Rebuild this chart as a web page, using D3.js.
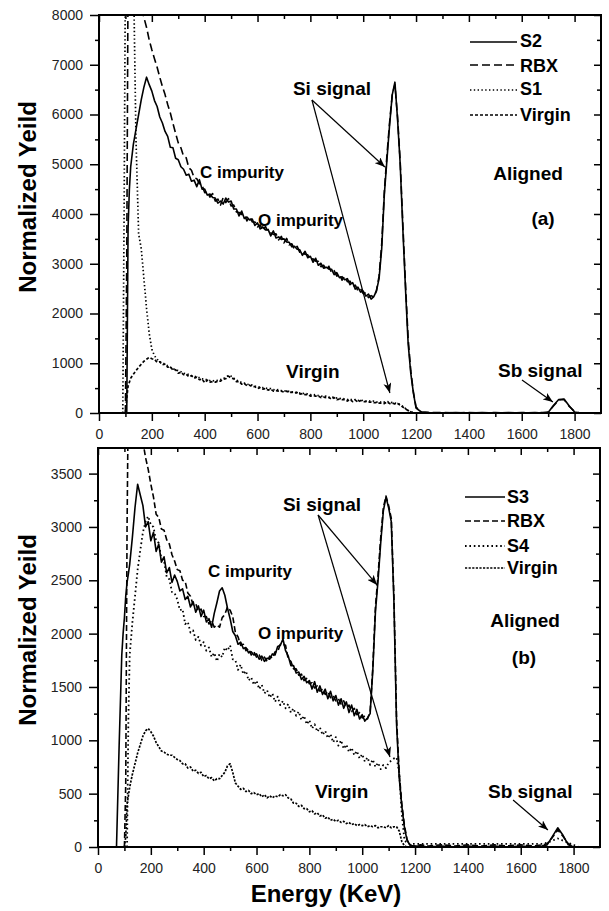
<!DOCTYPE html>
<html>
<head>
<meta charset="utf-8">
<script src="https://cdn.jsdelivr.net/npm/d3@7"></script>
<style>
  html, body { margin: 0; padding: 0; background: #fff; }
  svg { display: block; }
  text { font-family: "Liberation Sans", Arial, sans-serif; }
</style>
</head>
<body>
<svg id="chart" width="609" height="911"></svg>
<script>
// ---- Energy channels (KeV), shared by every spectrum ----
const energy = [
  70, 80, 90, 95, 100, 105, 110, 115, 120,
  130, 140, 150, 160, 170, 180, 190, 200, 210, 220, 230, 240, 250, 260, 270, 280, 290,
  300, 310, 320, 330, 340, 350, 360, 370, 380, 390,
  400, 410, 420, 430, 440, 450, 460, 470, 480, 490,
  500, 510, 520, 530, 540, 550, 560, 570, 580, 590,
  600, 610, 620, 630, 640, 650, 660, 670, 680, 690,
  700, 710, 720, 730, 740, 750, 760, 770, 780, 790,
  800, 810, 820, 830, 840, 850, 860, 870, 880, 890,
  900, 910, 920, 930, 940, 950, 960, 970, 980, 990,
  1000, 1010, 1020, 1030, 1040, 1050, 1060, 1070, 1080, 1090,
  1100, 1110, 1120, 1130, 1140, 1150, 1160, 1170, 1180, 1190,
  1200,
  1220, 1250, 1300, 1350, 1400, 1450, 1500, 1550, 1600, 1650, 1680, 1700, 1720, 1740, 1760, 1780, 1800, 1820
];

// ---- Panel (a) spectra: normalized yield ----
const s2 = [
  null, null, null, null, null, 0, 3700, 4500, 4950,
  5400, 5700, 6000, 6300, 6550, 6750, 6600, 6470, 6280, 6160, 5950, 5830, 5660, 5560, 5340, 5330, 5120,
  5090, 4950, 4900, 4780, 4800, 4660, 4680, 4550, 4690, 4500,
  4500, 4380, 4400, 4330, 4320, 4220, 4260, 4200, 4320, 4240,
  4260, 4100, 4100, 3960, 4060, 3910, 3940, 3880, 3900, 3770,
  3820, 3700, 3740, 3680, 3690, 3560, 3660, 3520, 3540, 3490,
  3500, 3440, 3430, 3340, 3350, 3290, 3280, 3170, 3250, 3120,
  3150, 3030, 3110, 2970, 3010, 2910, 2930, 2890, 2890, 2780,
  2820, 2720, 2740, 2680, 2700, 2580, 2620, 2490, 2530, 2430,
  2450, 2350, 2390, 2290, 2340, 2450, 2700, 3300, 4400, 5100,
  5800, 6400, 6650, 5900, 5000, 3700, 2500, 1400, 800, 400,
  100,
  20, 10, 0, 10, 0, 10, 0, 10, 0, 10, 0, 10, 150, 270, 280, 140, 20, 0
];
const rbxA = [
  null, null, null, null, 0, 3000, 8800, 9400, 9600,
  9500, 9200, 8700, 8200, 7950, 7750, 7500, 7300, 7120, 6950, 6750, 6560, 6400, 6200, 6030, 5820, 5620,
  5430, 5330, 5160, 5130, 4930, 4880, 4730, 4710, 4610, 4580,
  4430, 4440, 4340, 4410, 4260, 4300, 4180, 4330, 4230, 4310,
  4160, 4180, 4040, 4030, 3990, 3990, 3860, 3950, 3840, 3840,
  3740, 3780, 3660, 3750, 3630, 3620, 3590, 3600, 3480, 3550,
  3420, 3510, 3380, 3400, 3290, 3350, 3230, 3240, 3190, 3180,
  3080, 3100, 3050, 3050, 2940, 2970, 2880, 2950, 2820, 2860,
  2750, 2790, 2670, 2750, 2640, 2650, 2550, 2570, 2460, 2500,
  2400, 2420, 2320, 2360, 2330, 2460, 2750, 3400, 4450, 5200,
  5850, 6400, 6600, 5950, 5050, 3800, 2600, 1500, 850, 420,
  120,
  20, 10, 10, 0, 10, 0, 10, 0, 10, 0, 10, 20, 140, 260, 270, 130, 30, 0
];
const s1 = [
  null, null, 0, 4000, 9000, 9500, 9600, 9500, 9400,
  9000, 5500, 3600, 3300, 2700, 2100, 1600, 1280, 1150, 1080, 1030, 1010, 980, 950, 920, 890, 870,
  850, 830, 800, 790, 770, 750, 740, 720, 710, 690,
  670, 670, 650, 640, 660, 650, 670, 690, 720, 750,
  740, 700, 660, 640, 610, 600, 580, 570, 560, 540,
  530, 520, 510, 500, 490, 490, 470, 460, 470, 450,
  440, 450, 430, 420, 430, 410, 400, 390, 400, 380,
  370, 360, 370, 350, 340, 330, 340, 320, 310, 320,
  300, 290, 300, 280, 270, 280, 260, 270, 250, 260,
  250, 240, 250, 230, 240, 220, 230, 210, 220, 230,
  220, 210, 200, 190, 170, 130, 90, 50, 20, 10,
  0,
  0, 0, 0, 0, 0, 0, 0, 0, 0, 0, 0, 0, 0, 0, 0, 0, 0, 0
];
const virginA = [
  null, null, null, null, 0, 300, 540, 620, 700,
  780, 850, 920, 980, 1040, 1080, 1120, 1090, 1080, 1020, 1030, 970, 980, 920, 930, 860, 870,
  800, 820, 770, 780, 730, 750, 700, 720, 670, 680,
  610, 660, 620, 630, 620, 640, 640, 680, 690, 740,
  700, 690, 630, 630, 580, 590, 550, 560, 530, 530,
  490, 510, 480, 490, 460, 480, 440, 450, 440, 440,
  420, 440, 410, 420, 400, 410, 380, 390, 370, 370,
  340, 350, 340, 340, 310, 320, 310, 310, 280, 310,
  270, 280, 270, 270, 240, 270, 230, 260, 220, 250,
  230, 230, 220, 220, 210, 210, 200, 200, 190, 220,
  190, 200, 180, 190, 160, 120, 80, 50, 20, 10,
  0,
  0, 0, 0, 0, 0, 0, 0, 0, 0, 0, 0, 0, 0, 0, 0, 0, 0, 0
];

// ---- Panel (b) spectra ----
const s3 = [
  0, 950, 1800, 2000, 2150, 2350, 2480, 2560, 2650,
  2900, 3180, 3400, 3300, 3200, 3000, 3050, 2870, 2950, 2770, 2840, 2670, 2720, 2570, 2620, 2480, 2550,
  2490, 2400, 2420, 2320, 2350, 2250, 2300, 2200, 2260, 2160,
  2220, 2110, 2140, 2060, 2190, 2290, 2400, 2430, 2360, 2240,
  2140, 2020, 1980, 1900, 1920, 1860, 1870, 1820, 1830, 1800,
  1810, 1760, 1790, 1740, 1770, 1760, 1810, 1800, 1880, 1890,
  1950, 1840, 1790, 1700, 1700, 1630, 1640, 1570, 1600, 1540,
  1560, 1480, 1550, 1450, 1510, 1430, 1480, 1390, 1460, 1370,
  1420, 1330, 1390, 1300, 1360, 1260, 1330, 1230, 1290, 1200,
  1240, 1180, 1210, 1250, 1650, 2200, 2500, 2850, 3150, 3280,
  3180, 3050, 2300, 1150, 650, 380, 180, 60, 20, 10,
  10,
  10, 0, 10, 0, 10, 0, 10, 0, 10, 0, 10, 20, 100, 180, 110, 20, 0, 0
];
const rbxB = [
  null, null, null, null, 0, 600, 3000, 4300, 4600,
  4500, 4300, 4100, 3950, 3800, 3650, 3540, 3400, 3280, 3120, 3090, 2980, 2970, 2880, 2840, 2740, 2680,
  2600, 2590, 2500, 2490, 2380, 2350, 2270, 2280, 2210, 2230,
  2160, 2160, 2090, 2120, 2060, 2080, 2060, 2150, 2180, 2250,
  2220, 2160, 2010, 1970, 1890, 1900, 1840, 1860, 1800, 1830,
  1780, 1800, 1750, 1780, 1740, 1790, 1770, 1830, 1830, 1900,
  1900, 1890, 1760, 1740, 1670, 1670, 1610, 1620, 1560, 1580,
  1530, 1540, 1490, 1510, 1460, 1480, 1430, 1460, 1400, 1420,
  1370, 1390, 1340, 1370, 1310, 1330, 1270, 1300, 1240, 1260,
  1210, 1230, 1200, 1270, 1680, 2250, 2550, 2900, 3180, 3290,
  3200, 3080, 2350, 1200, 700, 400, 200, 70, 20, 10,
  10,
  20, 10, 20, 10, 20, 10, 20, 10, 20, 10, 20, 30, 90, 160, 100, 30, 0, 0
];
const s4 = [
  null, null, null, null, null, null, 0, 1200, 1800,
  2100, 2350, 2600, 2780, 2950, 3050, 3100, 3020, 3000, 2870, 2850, 2700, 2680, 2530, 2510, 2390, 2380,
  2320, 2220, 2230, 2090, 2110, 2010, 2030, 1940, 1970, 1890,
  1920, 1840, 1870, 1780, 1820, 1740, 1810, 1780, 1870, 1840,
  1890, 1760, 1750, 1660, 1710, 1620, 1650, 1560, 1590, 1520,
  1560, 1480, 1520, 1440, 1470, 1400, 1440, 1360, 1410, 1330,
  1370, 1300, 1340, 1260, 1300, 1230, 1270, 1190, 1230, 1150,
  1190, 1110, 1150, 1080, 1120, 1050, 1090, 1020, 1060, 980,
  1030, 950, 1000, 920, 960, 890, 930, 860, 900, 830,
  870, 800, 840, 770, 820, 750, 790, 730, 770, 740,
  790, 810, 830, 840, 700, 300, 60, 40, 30, 30,
  30,
  30, 30, 30, 30, 30, 30, 30, 30, 30, 30, 30, 40, 60, 80, 60, 40, 20, 0
];
const virginB = [
  null, null, null, null, 0, 100, 400, 480, 560,
  680, 780, 880, 960, 1040, 1090, 1110, 1080, 1040, 980, 940, 900, 890, 870, 860, 860, 840,
  820, 810, 780, 780, 740, 750, 710, 720, 690, 700,
  660, 670, 640, 650, 620, 640, 640, 670, 700, 760,
  780, 700, 600, 570, 540, 550, 520, 530, 500, 510,
  490, 500, 470, 490, 460, 480, 460, 480, 470, 490,
  480, 490, 460, 450, 410, 410, 380, 390, 360, 360,
  330, 340, 310, 320, 290, 300, 270, 280, 250, 260,
  240, 250, 230, 240, 220, 230, 210, 220, 200, 210,
  200, 210, 190, 200, 190, 200, 180, 190, 190, 180,
  200, 180, 190, 190, 150, 50, 10, 0, 0, 0,
  0,
  0, 0, 0, 0, 0, 0, 0, 0, 0, 0, 0, 0, 0, 0, 0, 0, 0, 0
];

// ---- Tick values and labels ----
const xTicks = [0, 200, 400, 600, 800, 1000, 1200, 1400, 1600, 1800];
const xMinor = [100, 300, 500, 700, 900, 1100, 1300, 1500, 1700];
const yTicksA = [0, 1000, 2000, 3000, 4000, 5000, 6000, 7000, 8000];
const yMinorA = [500, 1500, 2500, 3500, 4500, 5500, 6500, 7500];
const yTicksB = [0, 500, 1000, 1500, 2000, 2500, 3000, 3500];
const yMinorB = [250, 750, 1250, 1750, 2250, 2750, 3250];
const legendA = ["S2", "RBX", "S1", "Virgin"];
const legendB = ["S3", "RBX", "S4", "Virgin"];

// ---- Panel layout and styling ----
const panels = [
  {
    plot: { x0: 99, y0: 15, x1: 601, y1: 413 },
    yMax: 8000, yTicks: yTicksA, yMinor: yMinorA,
    series: {
      "Virgin": { values: virginA, dash: "3,2", width: 1.7 },
      "S1": { values: s1, dash: "1.4,2.4", width: 1.7 },
      "RBX": { values: rbxA, dash: "8,4", width: 1.6 },
      "S2": { values: s2, dash: null, width: 1.6 }
    },
    drawOrder: ["Virgin", "S1", "RBX", "S2"],
    legend: legendA,
    legendBox: { lineX0: -131, lineX1: -84, textX: -81, lineY: [27, 50, 75, 100], textY: [32, 57, 80, 106] },
    tag: { aligned: [-73, 165], label: "(a)", labelPos: [-58, 210] },
    titleY: 197,
    notes: [
      { text: "Si signal", e: 734, v: 6392, size: 19 },
      { text: "C impurity", e: 382, v: 4724, size: 17 },
      { text: "O impurity", e: 602, v: 3759, size: 17 },
      { text: "Virgin", e: 708, v: 704, size: 19 },
      { text: "Sb signal", e: 1510, v: 724, size: 19 }
    ],
    arrows: [
      { from: [806, 6291], to: [1082, 4945] },
      { from: [806, 6291], to: [1101, 402] },
      { from: [1601, 663], to: [1718, 221] }
    ]
  },
  {
    plot: { x0: 98, y0: 448, x1: 600, y1: 847 },
    yMax: 3740, yTicks: yTicksB, yMinor: yMinorB,
    series: {
      "Virgin": { values: virginB, dash: "2.2,1.4", width: 1.7 },
      "S4": { values: s4, dash: "1.6,2.8", width: 1.8 },
      "RBX": { values: rbxB, dash: "6,3", width: 1.6 },
      "S3": { values: s3, dash: null, width: 1.6 }
    },
    drawOrder: ["Virgin", "S4", "RBX", "S3"],
    legend: legendB,
    legendBox: { lineX0: -135, lineX1: -95, textX: -93, lineY: [49, 73, 98, 120], textY: [55, 79, 104, 126] },
    tag: { aligned: [-75, 179], label: "(b)", labelPos: [-76, 216] },
    titleY: 630,
    notes: [
      { text: "Si signal", e: 700, v: 3150, size: 19 },
      { text: "C impurity", e: 416, v: 2531, size: 17 },
      { text: "O impurity", e: 606, v: 1950, size: 17 },
      { text: "Virgin", e: 821, v: 459, size: 19 },
      { text: "Sb signal", e: 1476, v: 459, size: 19 }
    ],
    arrows: [
      { from: [833, 3112], to: [1056, 2456] },
      { from: [833, 3112], to: [1105, 844] },
      { from: [1571, 441], to: [1703, 159] }
    ]
  }
];

const FONT = '"Liberation Sans", Arial, sans-serif';
const svg = d3.select("#chart");
const defs = svg.append("defs");

defs.append("marker")
  .attr("id", "arrowhead")
  .attr("viewBox", "0 0 10 8")
  .attr("refX", 10).attr("refY", 4)
  .attr("markerWidth", 10).attr("markerHeight", 8)
  .attr("markerUnits", "userSpaceOnUse")
  .attr("orient", "auto")
  .append("path")
  .attr("d", "M0,0L10,4L0,8L2.5,4Z")
  .attr("fill", "#000");

panels.forEach((p, i) => {
  const { x0, y0, x1, y1 } = p.plot;
  const x = d3.scaleLinear().domain([0, 1900]).range([x0, x1]);
  const y = d3.scaleLinear().domain([0, p.yMax]).range([y1, y0]);
  const g = svg.append("g");

  const clipId = "plot-clip-" + i;
  defs.append("clipPath").attr("id", clipId)
    .append("rect").attr("x", x0).attr("y", y0).attr("width", x1 - x0).attr("height", y1 - y0);

  // spectra
  const line = d3.line()
    .defined(d => d[1] !== null)
    .x(d => x(d[0]))
    .y(d => y(d[1]));

  p.drawOrder.forEach(name => {
    const s = p.series[name];
    g.append("path")
      .datum(energy.map((e, k) => [e, s.values[k]]))
      .attr("d", line)
      .attr("clip-path", `url(#${clipId})`)
      .attr("fill", "none")
      .attr("stroke", "#000")
      .attr("stroke-width", s.width)
      .attr("stroke-linejoin", "round")
      .attr("stroke-dasharray", s.dash);
  });

  // axes: ticks outward on left/bottom, inward on top/right
  function addAxis(gen, tx, ty) {
    const a = g.append("g").attr("transform", `translate(${tx},${ty})`).call(gen);
    a.select(".domain").remove();
    a.selectAll(".tick line").attr("stroke", "#000").attr("stroke-width", 1.5);
    a.selectAll(".tick text").attr("font-size", 14).attr("fill", "#222").attr("font-family", FONT);
    return a;
  }
  addAxis(d3.axisLeft(y).tickValues(p.yTicks).tickSize(9).tickPadding(7).tickFormat(d3.format("d")), x0, 0);
  addAxis(d3.axisLeft(y).tickValues(p.yMinor).tickSize(4).tickFormat(""), x0, 0);
  addAxis(d3.axisRight(y).tickValues(p.yTicks).tickSize(-7).tickFormat(""), x1, 0);
  addAxis(d3.axisRight(y).tickValues(p.yMinor).tickSize(-4).tickFormat(""), x1, 0);
  addAxis(d3.axisTop(x).tickValues(xTicks).tickSize(-7).tickFormat(""), 0, y0);
  addAxis(d3.axisTop(x).tickValues(xMinor).tickSize(-4).tickFormat(""), 0, y0);
  addAxis(d3.axisBottom(x).tickValues(xTicks).tickSize(8).tickPadding(8).tickFormat(d3.format("d")), 0, y1);
  addAxis(d3.axisBottom(x).tickValues(xMinor).tickSize(4).tickFormat(""), 0, y1);

  g.append("rect")
    .attr("x", x0).attr("y", y0).attr("width", x1 - x0).attr("height", y1 - y0)
    .attr("fill", "none").attr("stroke", "#000").attr("stroke-width", 2);

  // y-axis title
  g.append("text")
    .attr("transform", `translate(36,${p.titleY}) rotate(-90)`)
    .attr("text-anchor", "middle")
    .attr("font-size", 24).attr("font-weight", "bold")
    .text("Normalized Yeild");

  // legend
  const lb = p.legendBox;
  p.legend.forEach((name, k) => {
    const s = p.series[name];
    g.append("line")
      .attr("x1", x1 + lb.lineX0).attr("x2", x1 + lb.lineX1)
      .attr("y1", y0 + lb.lineY[k]).attr("y2", y0 + lb.lineY[k])
      .attr("stroke", "#000").attr("stroke-width", s.width)
      .attr("stroke-dasharray", s.dash);
    g.append("text")
      .attr("x", x1 + lb.textX).attr("y", y0 + lb.textY[k])
      .attr("font-size", 18).attr("font-weight", "bold")
      .text(name);
  });

  g.append("text")
    .attr("x", x1 + p.tag.aligned[0]).attr("y", y0 + p.tag.aligned[1])
    .attr("text-anchor", "middle").attr("font-size", 19).attr("font-weight", "bold")
    .text("Aligned");
  g.append("text")
    .attr("x", x1 + p.tag.labelPos[0]).attr("y", y0 + p.tag.labelPos[1])
    .attr("text-anchor", "middle").attr("font-size", 19).attr("font-weight", "bold")
    .text(p.tag.label);

  // annotations
  p.notes.forEach(n => {
    g.append("text")
      .attr("x", x(n.e)).attr("y", y(n.v))
      .attr("font-size", n.size).attr("font-weight", "bold")
      .text(n.text);
  });
  p.arrows.forEach(a => {
    g.append("line")
      .attr("x1", x(a.from[0])).attr("y1", y(a.from[1]))
      .attr("x2", x(a.to[0])).attr("y2", y(a.to[1]))
      .attr("stroke", "#000").attr("stroke-width", 1.2)
      .attr("marker-end", "url(#arrowhead)");
  });
});

// shared x-axis title
svg.append("text")
  .attr("x", 326).attr("y", 902)
  .attr("text-anchor", "middle")
  .attr("font-size", 24).attr("font-weight", "bold")
  .attr("font-family", FONT)
  .text("Energy (KeV)");
</script>
</body>
</html>
